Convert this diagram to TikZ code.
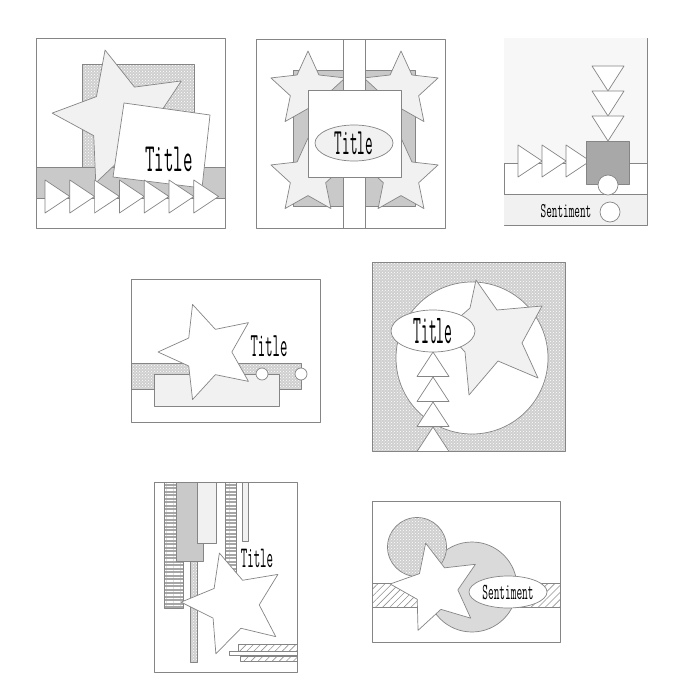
\documentclass[tikz,border=0pt]{standalone}
\usetikzlibrary{shapes.geometric,patterns,patterns.meta}
\definecolor{edge}{HTML}{858585}
\definecolor{paper}{HTML}{F1F1F1}
\definecolor{band}{HTML}{C9C9C9}
\definecolor{block}{HTML}{A8A8A8}
\definecolor{disc}{HTML}{DADADA}
\newcommand{\slab}[3]{\scalebox{#2}[1]{\fontsize{#1}{#1}\selectfont\ttfamily #3}}
\tikzset{
	card/.style={draw=edge, fill=white, line width=0.8pt},
	part/.style={draw=edge, line width=0.7pt},
	dotfill/.style={part, preaction={fill=gray!38}, pattern=crosshatch dots, pattern color=white},
	hatchfill/.style={part, preaction={fill=white}, pattern={Lines[angle=45, distance=5pt, line width=0.6pt]}, pattern color=gray!85},
	linefill/.style={part, preaction={fill=gray!70}, pattern={Lines[angle=0, distance=3.5pt, line width=1.3pt]}, pattern color=white},
	cardstar/.style={star, star points=5, star point ratio=2.1, part, inner sep=0pt},
	blob/.style={circle, part, inner sep=0pt},
	oval/.style={ellipse, part, inner sep=0pt},
	wording/.style={inner sep=0pt, anchor=base},
}
\begin{document}
\begin{tikzpicture}[x=1pt, y=-1pt, line join=round]
	\useasboundingbox (0,0) rectangle (700,700);
	% First card
	\draw[card] (36,38) rectangle (225,228);
	\draw[dotfill] (82,64) rectangle (194,168);
	\draw[part, fill=band] (36,167) rectangle (225,198);
	\node[cardstar, fill=paper, minimum size=140pt, rotate=14] (star-1) at (122,118) {};
	\draw[part, fill=white] (124,103) -- (210,115) -- (202,188) -- (113,177) -- cycle;
	\node[wording] (title-1) at (169,172) {\slab{40}{0.46}{Title}};
	\foreach \i in {0,...,6}
		\draw[part, fill=white] ({45+24.8*\i},180) -- ++(24.8,16.5) -- ++(-24.8,16.5) -- cycle;
	% Second card
	\draw[card] (256,39) rectangle (445,228);
	\draw[part, fill=band] (293,70) rectangle (415,206);
	\foreach \x/\y [count=\n] in {308/90, 401/90, 308/177, 401/177}
		\node[cardstar, fill=paper, minimum size=78pt] (star-2-\n) at (\x,\y) {};
	\draw[part, fill=white] (343,39) rectangle (365,228);
	\draw[part, fill=white] (308,90) rectangle (401,177);
	\node[oval, fill=paper, minimum width=78pt, minimum height=36pt] (title-2) at (354,143) {\slab{37}{0.4}{Title}};
	% Third card
	\draw[card] (504,38) rectangle (647,225);
	\fill[paper!55] (504.4,38.4) rectangle (646.6,163);
	\fill[paper] (504.4,194) rectangle (646.6,224.6);
	\draw[part] (504,163) -- (647,163);
	\draw[part] (504,194) -- (647,194);
	\foreach \y in {66,91,116}
		\draw[part, fill=white] (592,\y) -- (624,\y) -- (608,\y+25) -- cycle;
	\foreach \x in {518,542,566}
		\draw[part, fill=white] (\x,145) -- (\x+24,161) -- (\x,177) -- cycle;
	\draw[part, fill=block] (586,141) rectangle (629,184);
	\node[blob, fill=white, minimum size=20pt] (dot-3-1) at (608,185) {};
	\node[wording] (sentiment-3) at (566,218) {\slab{21}{0.52}{Sentiment}};
	\node[blob, fill=white, minimum size=20pt] (dot-3-2) at (610,212) {};
	% Fourth card
	\draw[card] (131,279) rectangle (320,422);
	\draw[dotfill] (131,363) rectangle (301,389);
	\draw[part, fill=paper] (154,374) rectangle (279,406);
	\node[cardstar, fill=white, minimum size=100pt, rotate=18] (star-4) at (208,352) {};
	\foreach \x [count=\n] in {262,301}
		\node[blob, fill=white, minimum size=12pt] (dot-4-\n) at (\x,374) {};
	\node[wording] (title-4) at (269,356) {\slab{34}{0.42}{Title}};
	% Fifth card
	\draw[dotfill] (372,262) rectangle (565,451);
	\node[blob, fill=white, minimum size=152pt] (disc-5) at (472,358) {};
	\draw[part, fill=paper] (476,280) -- (497,310) -- (542,306) -- (522,343) -- (538,378) -- (498,361)
		-- (469,395) -- (465,352) -- (445,330) -- (470,308) -- cycle;
	\foreach \y in {352,377,402,427}
		\draw[part, fill=white] (433,\y) -- (449,\y+24.5) -- (417,\y+24.5) -- cycle;
	\node[oval, fill=white, minimum width=84pt, minimum height=42pt] (title-5) at (433,331) {\slab{41}{0.37}{Title}};
	% Sixth card
	\draw[card] (154,482) rectangle (297,672);
	\draw[linefill] (164,482) rectangle (183,608);
	\draw[part, fill=band] (176,482) rectangle (203,561);
	\draw[part, fill=paper] (197,482) rectangle (216,543);
	\draw[dotfill] (190,561) rectangle (197,662);
	\draw[linefill] (225,482) rectangle (236,572);
	\draw[part, fill=paper] (242,482) rectangle (248,541);
	\node[wording] (title-6) at (257,567) {\slab{30}{0.42}{Title}};
	\node[cardstar, fill=white, minimum size=106pt, rotate=16] (star-6) at (234,604) {};
	\draw[hatchfill] (238,644) rectangle (297,651);
	\draw[part, fill=white] (229,651) rectangle (297,655);
	\draw[hatchfill] (240,656) rectangle (297,661);
	% Seventh card
	\draw[card] (372,501) rectangle (560,642);
	\draw[hatchfill] (372,583) rectangle (560,607);
	\node[blob, fill=disc, minimum size=90pt] (disc-7) at (472,587) {};
	\node[blob, dotfill, minimum size=59pt] (dot-7) at (417,547) {};
	\node[cardstar, fill=white, minimum size=92pt, rotate=13] (star-7) at (436,588) {};
	\node[oval, fill=white, minimum width=78pt, minimum height=32pt] (sentiment-7) at (508,592) {\slab{23}{0.48}{Sentiment}};
\end{tikzpicture}
\end{document}
